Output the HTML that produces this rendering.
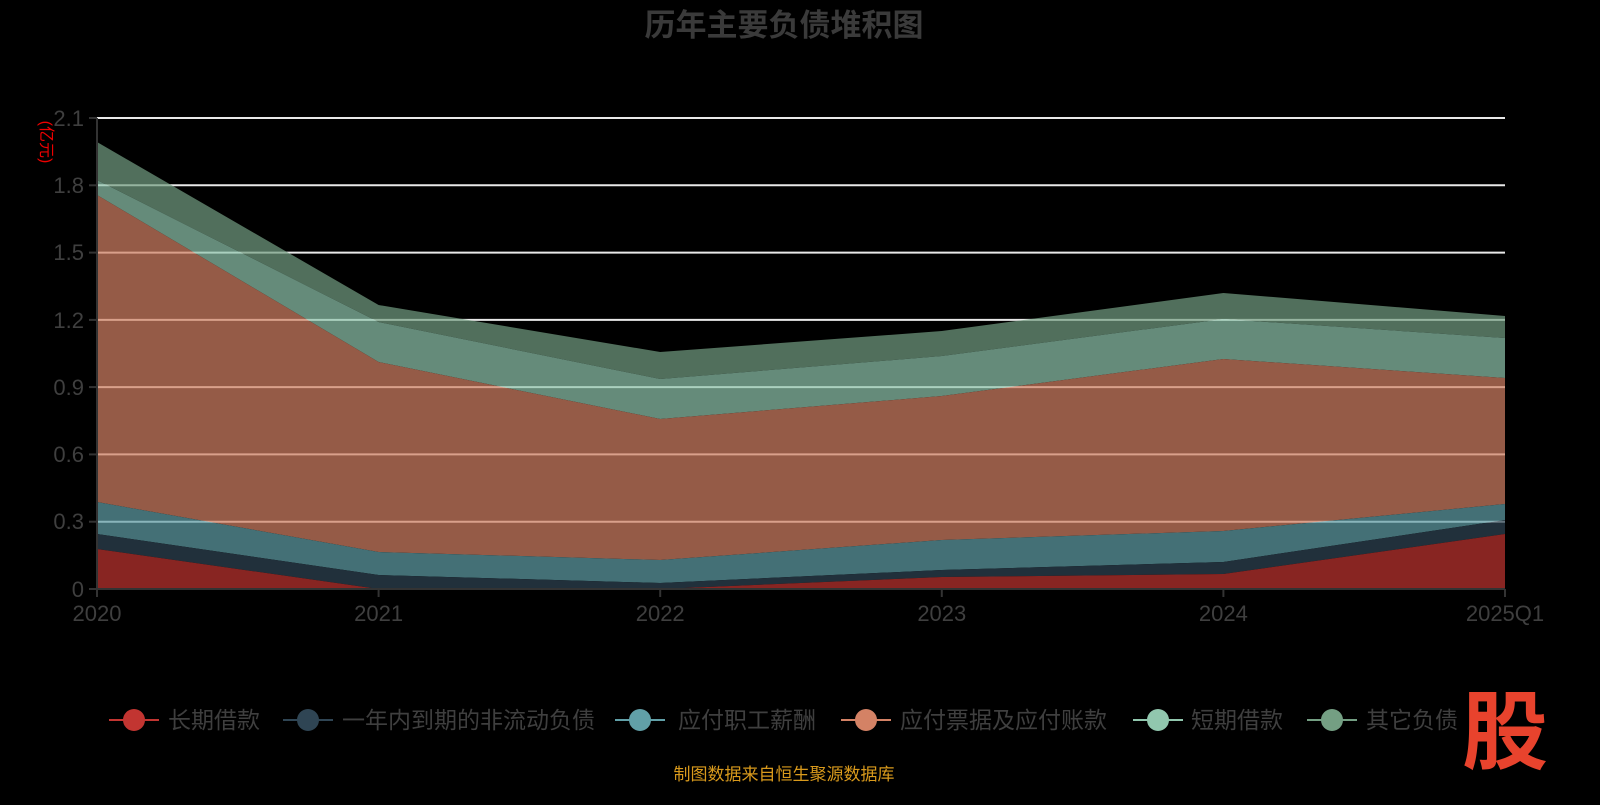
<!DOCTYPE html>
<html><head><meta charset="utf-8"><style>
body{margin:0;background:#000;width:1600px;height:800px;overflow:hidden;font-family:"Liberation Sans","Noto Sans CJK SC",sans-serif}
</style></head><body>
<svg width="1600" height="800" xmlns="http://www.w3.org/2000/svg" font-family="Liberation Sans, Noto Sans CJK SC, sans-serif">
<text x="784" y="36" text-anchor="middle" font-size="31" font-weight="bold" fill="#3a3a3a">历年主要负债堆积图</text>
<text transform="translate(41,142) rotate(90)" text-anchor="middle" font-size="16" fill="#e00">(亿元)</text>
<g stroke="#e8e8e8" stroke-width="2">
<line x1="97" x2="1505" y1="118" y2="118"/><line x1="97" x2="1505" y1="185.3" y2="185.3"/>
<line x1="97" x2="1505" y1="252.6" y2="252.6"/><line x1="97" x2="1505" y1="319.9" y2="319.9"/>
<line x1="97" x2="1505" y1="387.1" y2="387.1"/><line x1="97" x2="1505" y1="454.4" y2="454.4"/>
<line x1="97" x2="1505" y1="521.7" y2="521.7"/>
</g>
<g opacity="0.7">
<polygon fill="#749f83" points="97,142 378.6,305 660.2,352 941.8,331 1223.4,293 1505,316 1505,338 1223.4,319 941.8,356 660.2,379 378.6,322 97,180"/>
<polygon fill="#91c7ae" points="97,180 378.6,322 660.2,379 941.8,356 1223.4,319 1505,338 1505,378 1223.4,359 941.8,396 660.2,419 378.6,362 97,195"/>
<polygon fill="#d48265" points="97,195 378.6,362 660.2,419 941.8,396 1223.4,359 1505,378 1505,504 1223.4,531 941.8,540 660.2,560 378.6,552 97,502"/>
<polygon fill="#61a0a8" points="97,502 378.6,552 660.2,560 941.8,540 1223.4,531 1505,504 1505,520 1223.4,562 941.8,570 660.2,583 378.6,575 97,534"/>
<polygon fill="#2f4554" points="97,534 378.6,575 660.2,583 941.8,570 1223.4,562 1505,520 1505,534 1223.4,574 941.8,577 660.2,589 378.6,589 97,549"/>
<polygon fill="#c23531" points="97,549 378.6,589 660.2,589 941.8,577 1223.4,574 1505,534 1505,589 97,589"/>
</g>
<g stroke="#333" stroke-width="2">
<line x1="97" y1="118" x2="97" y2="589"/><line x1="97" y1="589" x2="1505" y2="589"/>
<line x1="89" x2="97" y1="118" y2="118"/><line x1="89" x2="97" y1="185.3" y2="185.3"/><line x1="89" x2="97" y1="252.6" y2="252.6"/><line x1="89" x2="97" y1="319.9" y2="319.9"/><line x1="89" x2="97" y1="387.1" y2="387.1"/><line x1="89" x2="97" y1="454.4" y2="454.4"/><line x1="89" x2="97" y1="521.7" y2="521.7"/><line x1="89" x2="97" y1="589" y2="589"/>
<line x1="97" x2="97" y1="589" y2="597"/><line x1="378.6" x2="378.6" y1="589" y2="597"/><line x1="660.2" x2="660.2" y1="589" y2="597"/><line x1="941.8" x2="941.8" y1="589" y2="597"/><line x1="1223.4" x2="1223.4" y1="589" y2="597"/><line x1="1505" x2="1505" y1="589" y2="597"/>
</g>
<g font-size="22" fill="#3f3f3f" text-anchor="end">
<text x="84" y="126">2.1</text><text x="84" y="193">1.8</text><text x="84" y="260">1.5</text><text x="84" y="328">1.2</text><text x="84" y="395">0.9</text><text x="84" y="462">0.6</text><text x="84" y="529">0.3</text><text x="84" y="597">0</text>
</g>
<g font-size="22" fill="#3f3f3f" text-anchor="middle">
<text x="97" y="621">2020</text><text x="378.6" y="621">2021</text><text x="660.2" y="621">2022</text><text x="941.8" y="621">2023</text><text x="1223.4" y="621">2024</text><text x="1505" y="621">2025Q1</text>
</g>
<g font-size="23" fill="#3f3f3f" stroke-width="2">
<line x1="109" x2="159" y1="720" y2="720" stroke="#c23531"/><circle cx="134" cy="720" r="11" fill="#c23531"/><text x="168" y="728">长期借款</text>
<line x1="283" x2="333" y1="720" y2="720" stroke="#2f4554"/><circle cx="308" cy="720" r="11" fill="#2f4554"/><text x="342" y="728">一年内到期的非流动负债</text>
<line x1="615" x2="665" y1="720" y2="720" stroke="#61a0a8"/><circle cx="640" cy="720" r="11" fill="#61a0a8"/><text x="678" y="728">应付职工薪酬</text>
<line x1="841" x2="891" y1="720" y2="720" stroke="#d48265"/><circle cx="866" cy="720" r="11" fill="#d48265"/><text x="900" y="728">应付票据及应付账款</text>
<line x1="1133" x2="1183" y1="720" y2="720" stroke="#91c7ae"/><circle cx="1158" cy="720" r="11" fill="#91c7ae"/><text x="1191" y="728">短期借款</text>
<line x1="1307" x2="1357" y1="720" y2="720" stroke="#749f83"/><circle cx="1332" cy="720" r="11" fill="#749f83"/><text x="1366" y="728">其它负债</text>
</g>
<text x="784" y="780" text-anchor="middle" font-size="17" fill="#d99a1c">制图数据来自恒生聚源数据库</text>
<text x="1505" y="762" text-anchor="middle" font-size="86" font-weight="bold" fill="#e8432d">股</text>
</svg>
</body></html>
